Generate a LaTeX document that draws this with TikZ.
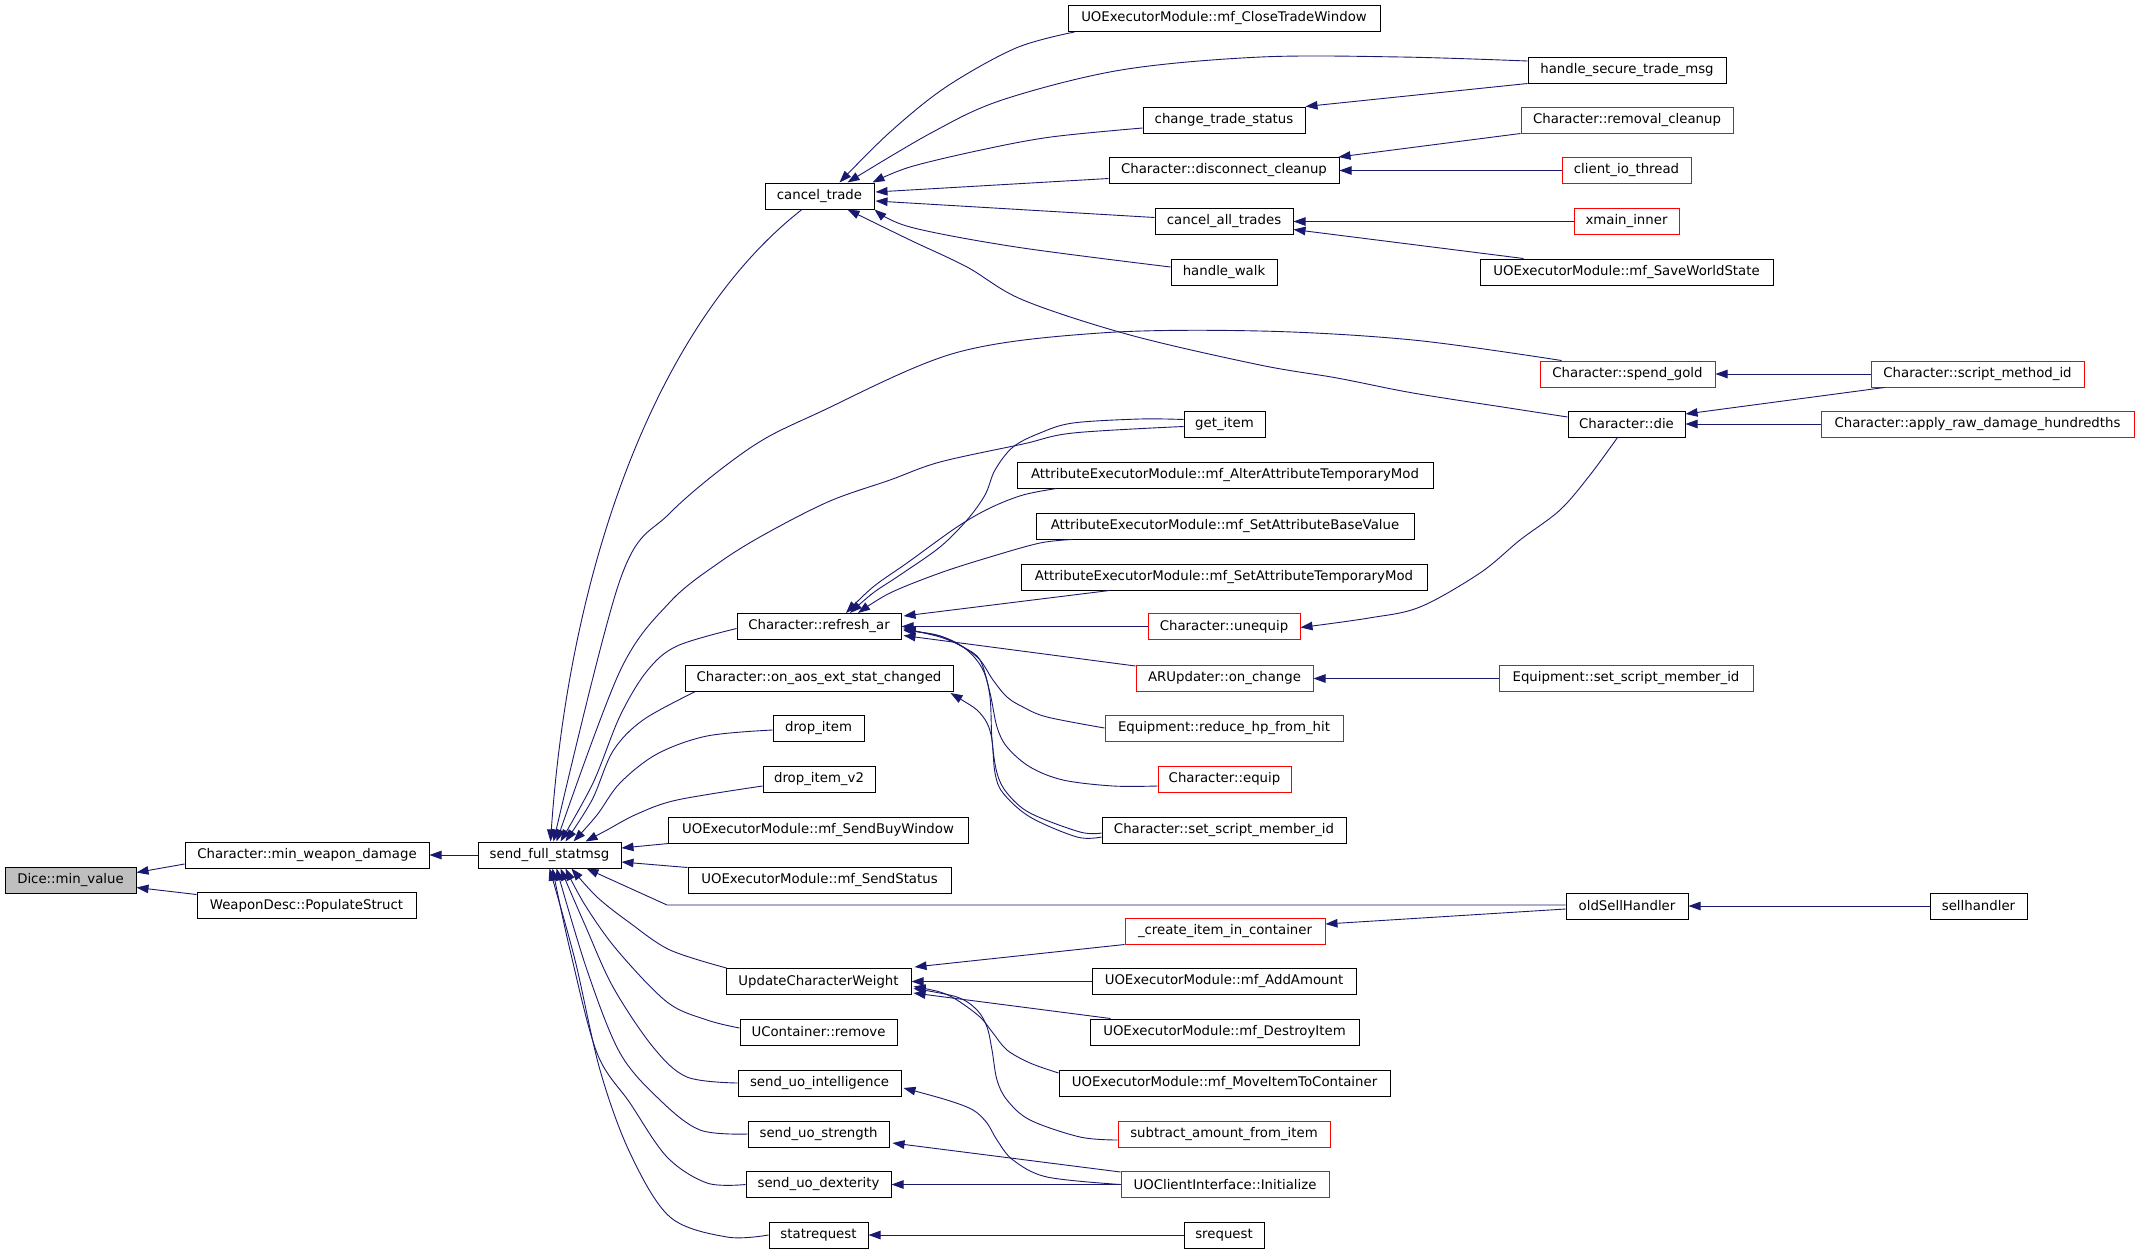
\documentclass[tikz,border=0pt]{standalone}
\usepackage{fontspec}
\setmainfont{DejaVu Sans}
\usetikzlibrary{arrows.meta}
\definecolor{mblue}{HTML}{191970}
\definecolor{rbord}{HTML}{FF0000}
\definecolor{gfill}{HTML}{BFBFBF}
\tikzset{
  box/.style={draw=black, fill=white, line width=1pt, minimum height=26pt, inner sep=0pt, font=\fontsize{13.3}{15}\selectfont, text=black},
  rbox/.style={box, draw=rbord},
  edge/.style={draw=mblue, line width=0.9pt, -{Triangle[length=12pt,width=8.5pt]}},
  sm/.style={smooth, tension=0.55}
}
\begin{document}
\begin{tikzpicture}[x=1pt,y=-1pt]
\path[use as bounding box, fill=white] (0,0) rectangle (2139,1253);
% column 0/1
\node[box, fill=gfill, minimum width=131pt] (dice) at (70.5,880.5) {Dice::min\_value};
\node[box, minimum width=244pt] (mwd) at (307,855) {Character::min\_weapon\_damage};
\node[box, minimum width=219pt] (wds) at (306.5,905.5) {WeaponDesc::PopulateStruct};
\node[box, minimum width=143pt] (sfs) at (549.5,855) {send\_full\_statmsg};
% column 2
\node[box, minimum width=109pt] (ct) at (819.5,196) {cancel\_trade};
\node[box, minimum width=164pt] (rar) at (819,626.5) {Character::refresh\_ar};
\node[box, minimum width=268pt] (aos) at (819,678.5) {Character::on\_aos\_ext\_stat\_changed};
\node[box, minimum width=91pt] (di) at (818.5,728) {drop\_item};
\node[box, minimum width=112pt] (di2) at (819,779) {drop\_item\_v2};
\node[box, minimum width=300pt] (sbw) at (818,830) {UOExecutorModule::mf\_SendBuyWindow};
\node[box, minimum width=263pt] (sst) at (819.5,880) {UOExecutorModule::mf\_SendStatus};
\node[box, minimum width=185pt] (ucw) at (818.5,981.5) {UpdateCharacterWeight};
\node[box, minimum width=157pt] (ucr) at (818.5,1032) {UContainer::remove};
\node[box, minimum width=163pt] (sui) at (819.5,1083) {send\_uo\_intelligence};
\node[box, minimum width=141pt] (sus) at (818.5,1134) {send\_uo\_strength};
\node[box, minimum width=145pt] (sud) at (818.5,1184.5) {send\_uo\_dexterity};
\node[box, minimum width=99pt] (sr) at (818.5,1235) {statrequest};
% column 3
\node[box, minimum width=312pt] (ctw) at (1224,18.5) {UOExecutorModule::mf\_CloseTradeWindow};
\node[box, minimum width=162pt] (cts) at (1224,120) {change\_trade\_status};
\node[box, minimum width=230pt] (dc) at (1224,170.5) {Character::disconnect\_cleanup};
\node[box, minimum width=138pt] (cat) at (1224,221.5) {cancel\_all\_trades};
\node[box, minimum width=106pt] (hw) at (1224,272) {handle\_walk};
\node[box, minimum width=81pt] (gi) at (1224.5,424.5) {get\_item};
\node[box, minimum width=416pt] (aatm) at (1225,475) {AttributeExecutorModule::mf\_AlterAttributeTemporaryMod};
\node[box, minimum width=378pt] (asbv) at (1225,526) {AttributeExecutorModule::mf\_SetAttributeBaseValue};
\node[box, minimum width=406pt] (astm) at (1224,577) {AttributeExecutorModule::mf\_SetAttributeTemporaryMod};
\node[rbox, minimum width=152pt] (uneq) at (1224,626.5) {Character::unequip};
\node[rbox, minimum width=177pt] (aru) at (1224.5,678.5) {ARUpdater::on\_change};
\node[rbox, minimum width=238pt] (rhp) at (1224,728) {Equipment::reduce\_hp\_from\_hit};
\node[rbox, minimum width=133pt] (eq) at (1224.5,779) {Character::equip};
\node[box, minimum width=244pt] (cssm) at (1224,830) {Character::set\_script\_member\_id};
\node[rbox, minimum width=200pt] (ciic) at (1225,931) {\_create\_item\_in\_container};
\node[box, minimum width=264pt] (aam) at (1224,981.5) {UOExecutorModule::mf\_AddAmount};
\node[box, minimum width=269pt] (dsi) at (1224.5,1032) {UOExecutorModule::mf\_DestroyItem};
\node[box, minimum width=331pt] (mitc) at (1224.5,1083) {UOExecutorModule::mf\_MoveItemToContainer};
\node[rbox, minimum width=212pt] (saf) at (1224,1134) {subtract\_amount\_from\_item};
\node[rbox, minimum width=208pt] (uci) at (1225,1184.5) {UOClientInterface::Initialize};
\node[box, minimum width=80pt] (srq) at (1224,1235) {srequest};
% column 4
\node[box, minimum width=198pt] (hstm) at (1627,70) {handle\_secure\_trade\_msg};
\node[rbox, minimum width=212pt] (rc) at (1627,120) {Character::removal\_cleanup};
\node[rbox, minimum width=129pt] (cio) at (1626.5,170.5) {client\_io\_thread};
\node[rbox, minimum width=105pt] (xmi) at (1626.5,221.5) {xmain\_inner};
\node[box, minimum width=293pt] (sws) at (1626.5,272) {UOExecutorModule::mf\_SaveWorldState};
\node[rbox, minimum width=175pt] (sg) at (1627.5,374) {Character::spend\_gold};
\node[box, minimum width=117pt] (die) at (1626.5,424) {Character::die};
\node[rbox, minimum width=254pt] (essm) at (1626,678.5) {Equipment::set\_script\_member\_id};
\node[box, minimum width=122pt] (osh) at (1627,906) {oldSellHandler};
% column 5
\node[rbox, minimum width=213pt] (smi) at (1977.5,374) {Character::script\_method\_id};
\node[rbox, minimum width=313pt] (ard) at (1977.5,424) {Character::apply\_raw\_damage\_hundredths};
\node[box, minimum width=97pt] (sh) at (1978.5,906) {sellhandler};

% ---- edges into Dice and min_weapon_damage
\draw[edge] ([shift={(0,9)}]mwd.west) -- ([shift={(0,-8)}]dice.east);
\draw[edge] ([shift={(0,-11)}]wds.west) -- ([shift={(0,7)}]dice.east);
\draw[edge] (sfs.west) -- (mwd.east);

% ---- upper fan into send_full_statmsg
\draw[edge] ([shift={(-17.5,0)}]ct.south) .. controls (660,320) and (570,560) .. ([shift={(1,0)}]sfs.north);
\draw[edge] plot[sm] coordinates {([shift={(22,0)}]sg.north west) (1413,340) (1260,331) (1100,333) (955,353) (820,412) (750,448) (670,513) (620,580) ([shift={(4,0)}]sfs.north)};
\draw[edge] plot[sm] coordinates {([shift={(0,2)}]gi.west) (1073,433) (1023,444) (940,462) (890,480) (830,501) (767,533) (720,562) (670,602) (620,671) ([shift={(7,0)}]sfs.north)};
\draw[edge] plot[sm] coordinates {([shift={(0,2)}]rar.west) (677,646) (647,671) (620,716) (593,783) ([shift={(11,0)}]sfs.north)};
\draw[edge] plot[sm] coordinates {([shift={(10,0)}]aos.south west) (643,720) (613,751) (592,800) ([shift={(16,0)}]sfs.north)};
\draw[edge] plot[sm] coordinates {([shift={(0,2)}]di.west) (707,736) (657,754) (620,783) (597,815) ([shift={(24,0)}]sfs.north)};
\draw[edge] plot[sm] coordinates {([shift={(0,7)}]di2.west) (677,800) (637,814) (607,830) ([shift={(36,0)}]sfs.north)};
\draw[edge] ([shift={(1,0)}]sbw.south west) -- ([shift={(0,-7)}]sfs.east);
\draw[edge] ([shift={(0,1)}]sst.north west) -- ([shift={(0,7)}]sfs.east);

% ---- lower fan into send_full_statmsg
\draw[edge] ([shift={(0,-1)}]osh.west) -- (667,905) -- ([shift={(37,0)}]sfs.south);
\draw[edge] plot[sm] coordinates {([shift={(1,0)}]ucw.north west) (670,950) (630,923) (597,897) ([shift={(22,0)}]sfs.south)};
\draw[edge] plot[sm] coordinates {([shift={(0,-4)}]ucr.west) (707,1020) (667,1002) (617,950) (585,905) ([shift={(16,0)}]sfs.south)};
\draw[edge] plot[sm] coordinates {(sui.west) (687,1077) (653,1047) (613,987) (585,925) ([shift={(11,0)}]sfs.south)};
\draw[edge] plot[sm] coordinates {(sus.west) (700,1130) (660,1100) (620,1053) (587,970) ([shift={(7,0)}]sfs.south)};
\draw[edge] plot[sm] coordinates {(sud.west) (707,1183) (667,1157) (630,1103) (597,1053) (570,950) ([shift={(3,0)}]sfs.south)};
\draw[edge] plot[sm] coordinates {(sr.west) (727,1237) (670,1217) (630,1153) (600,1070) (575,960) (sfs.south)};

% ---- callers of cancel_trade
\draw[edge] plot[sm] coordinates {([shift={(7,0)}]ctw.south west) (1016,48) (946,87) (889,133) ([shift={(20,0)}]ct.north)};
\draw[edge] plot[sm] coordinates {([shift={(0,-9)}]hstm.west) (1401,57) (1261,57) (1121,70) (1002,100) (931,133) ([shift={(28,0)}]ct.north)};
\draw[edge] plot[sm] coordinates {([shift={(0,8)}]cts.west) (1051,137) (981,150) (910,167) ([shift={(-2,0)}]ct.north east)};
\draw[edge] ([shift={(0,8)}]dc.west) -- ([shift={(1,-4)}]ct.east);
\draw[edge] ([shift={(0,-4)}]cat.west) -- ([shift={(1,5)}]ct.east);
\draw[edge] plot[sm] coordinates {([shift={(0,-5)}]hw.west) (1016,247) (910,227) (ct.south east)};
\draw[edge] plot[sm] coordinates {([shift={(0,-7)}]die.west) (1509,408) (1413,393) (1337,378) (1260,365) (1130,335) (1023,300) (967,267) (910,240) ([shift={(28,0)}]ct.south)};

% ---- further right
\draw[edge] (hstm.south west) -- (cts.north east);
\draw[edge] (rc.south west) -- ([shift={(-1,0)}]dc.north east);
\draw[edge] (cio.west) -- (dc.east);
\draw[edge] (xmi.west) -- (cat.east);
\draw[edge] ([shift={(44,0)}]sws.north west) -- ([shift={(0,8)}]cat.east);
\draw[edge] (smi.west) -- (sg.east);
\draw[edge] ([shift={(14,0)}]smi.south west) -- ([shift={(0,-10)}]die.east);
\draw[edge] (ard.west) -- (die.east);
\draw[edge] plot[sm] coordinates {([shift={(-9,0)}]die.south) (1590,475) (1560,510) (1520,540) (1480,573) (1420,607) (1369,618) ([shift={(0,1)}]uneq.east)};

% ---- callers of refresh_ar
\draw[edge] plot[sm] coordinates {([shift={(0,-5)}]gi.west) (1140,419) (1073,423) (1040,433) (1013,447) (995,470) (985,495) (967,520) (940,547) (900,575) (873,593) ([shift={(31,0)}]rar.north)};
\draw[edge] plot[sm] coordinates {([shift={(40,0)}]aatm.south west) (1023,495) (990,508) (957,527) (907,563) (873,587) ([shift={(27,0)}]rar.north)};
\draw[edge] plot[sm] coordinates {([shift={(37,0)}]asbv.south west) (1040,543) (990,557) (940,573) (890,593) ([shift={(39,0)}]rar.north)};
\draw[edge] ([shift={(89,0)}]astm.south west) -- ([shift={(2,3)}]rar.north east);
\draw[edge] (uneq.west) -- (rar.east);
\draw[edge] ([shift={(0,1)}]aru.north west) -- ([shift={(2,9)}]rar.east);
\draw[edge] plot[sm] coordinates {(rhp.west) (1047,717) (1023,707) (1007,697) (993,680) (980,660) (963,647) (937,635) ([shift={(2,4)}]rar.east)};
\draw[edge] plot[sm] coordinates {([shift={(0,7)}]eq.west) (1113,786) (1063,780) (1030,767) (1007,747) (997,727) (990,693) (980,660) (963,647) (940,637) ([shift={(2,2)}]rar.east)};
\draw[edge] plot[sm] coordinates {([shift={(0,3)}]cssm.west) (1080,832) (1030,813) (1007,793) (997,773) (992,740) (990,697) (983,670) (967,650) (943,637) ([shift={(2,3)}]rar.east)};
\draw[edge] plot[sm] coordinates {([shift={(0,7)}]cssm.west) (1077,837) (1030,817) (1003,793) (995,773) (992,740) (987,723) (977,710) (962,700) ([shift={(-3,1)}]aos.south east)};
\draw[edge] (essm.west) -- (aru.east);

% ---- sell handlers and UpdateCharacterWeight
\draw[edge] (sh.west) -- (osh.east);
\draw[edge] ([shift={(0,3)}]osh.west) -- ([shift={(0,-7)}]ciic.east);
\draw[edge] (ciic.south west) -- ([shift={(3,-1)}]ucw.north east);
\draw[edge] (aam.west) -- (ucw.east);
\draw[edge] ([shift={(21,0)}]dsi.north west) -- ([shift={(2,11.5)}]ucw.east);
\draw[edge] plot[sm] coordinates {([shift={(0,-10)}]mitc.west) (1030,1063) (1007,1050) (993,1033) (980,1017) (957,1000) (940,992) ([shift={(2,5)}]ucw.east)};
\draw[edge] plot[sm] coordinates {([shift={(0,6)}]saf.west) (1080,1137) (1030,1120) (1007,1100) (997,1080) (992,1050) (987,1027) (977,1010) (957,997) ([shift={(2,7)}]ucw.east)};

% ---- UOClientInterface::Initialize and srequest
\draw[edge] plot[sm] coordinates {(uci.west) (1047,1177) (1013,1160) (997,1140) (987,1123) (973,1110) (947,1100) ([shift={(2,5)}]sui.east)};
\draw[edge] ([shift={(0,1)}]uci.north west) -- ([shift={(3,9)}]sus.east);
\draw[edge] (uci.west) -- (sud.east);
\draw[edge] (srq.west) -- (sr.east);
\end{tikzpicture}
\end{document}
